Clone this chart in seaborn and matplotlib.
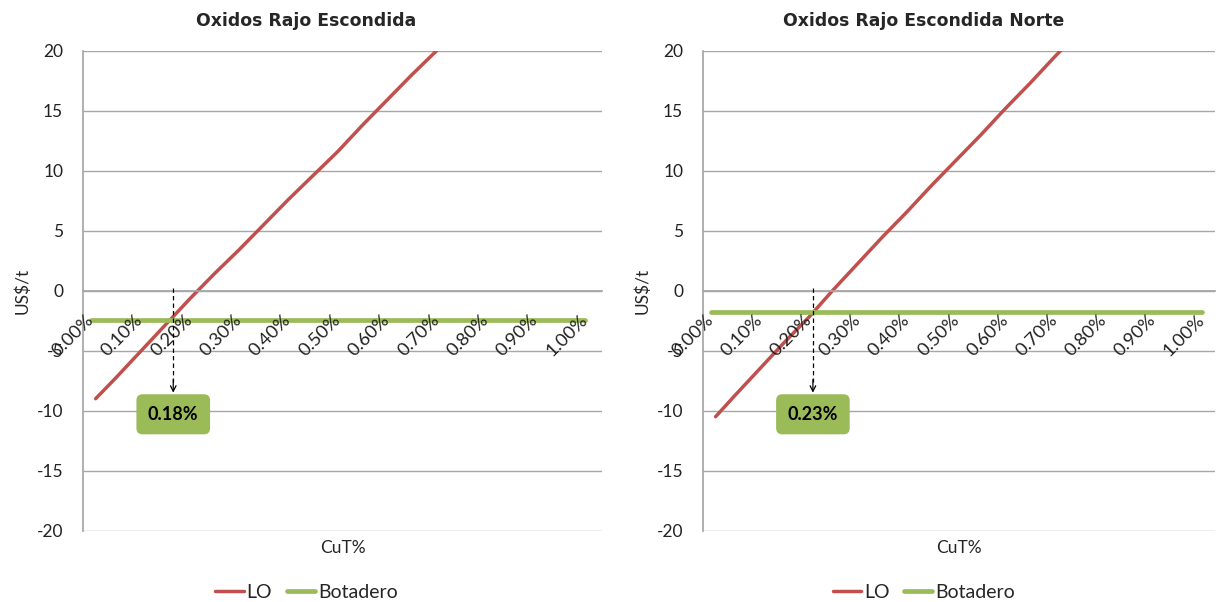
import numpy as np
import seaborn as sns
import matplotlib.pyplot as plt

# Data (cut-off grade CuT% vs US$/t)
cut = [0.01, 0.05, 0.10, 0.15, 0.20, 0.25, 0.30, 0.35, 0.40, 0.45, 0.50, 0.55, 0.60, 0.65, 0.70, 0.75]
lo_escondida = [-9.0, -7.3, -5.1, -2.9, -0.7, 1.4, 3.4, 5.5, 7.6, 9.6, 11.6, 13.8, 15.9, 18.0, 20.0, 22.1]
lo_norte = [-10.5, -8.7, -6.5, -4.3, -2.2, 0.1, 2.3, 4.5, 6.6, 8.8, 10.9, 13.0, 15.2, 17.3, 19.5, 21.6]

bot_cut = [0.00, 1.00]
bot_escondida = [-2.4, -2.4]
bot_norte = [-1.8, -1.8]

titles = ['Oxidos Rajo Escondida', 'Oxidos Rajo Escondida Norte']
breakeven_x = [0.167, 0.208]
breakeven_labels = ['0.18%', '0.23%']

xtick_vals = [0.0, 0.1, 0.2, 0.3, 0.4, 0.5, 0.6, 0.7, 0.8, 0.9, 1.0]
xtick_labels = ['0.00%', '0.10%', '0.20%', '0.30%', '0.40%', '0.50%',
                '0.60%', '0.70%', '0.80%', '0.90%', '1.00%']
yticks = [-20, -15, -10, -5, 0, 5, 10, 15, 20]

RED = '#C0504D'
GREEN = '#9BBB59'
GRID = '#A6A6A6'

sns.set_theme(style='white')
plt.rcParams['font.family'] = ['Lato', 'DejaVu Sans']

W, H = 1218, 602
fig = plt.figure(figsize=(W / 100, H / 100), dpi=100)

panels = [
    dict(rect=[83.3, 518.4], lo=lo_escondida, bot=bot_escondida, xmax=1.034, center=306.5),
    dict(rect=[703.3, 511.7], lo=lo_norte, bot=bot_norte, xmax=1.026, center=924.0),
]

for i, p in enumerate(panels):
    ax = fig.add_axes([p['rect'][0] / W, 1 - 530.7 / H, p['rect'][1] / W, 480 / H])

    sns.lineplot(x=cut, y=p['lo'], ax=ax, color=RED, lw=2.5, label='LO')
    sns.lineplot(x=bot_cut, y=p['bot'], ax=ax, color=GREEN, lw=3.4, label='Botadero')

    ax.set_xlim(-0.015, p['xmax'])
    ax.set_ylim(-20, 20)

    # horizontal gridlines, below the data
    for yv in yticks:
        ax.axhline(yv, color=GRID, lw=1.0, zorder=0.5)

    # spines: left axis, x axis crossing at 0
    for s in ['top', 'right']:
        ax.spines[s].set_visible(False)
    ax.spines['left'].set_color(GRID)
    ax.spines['bottom'].set_color(GRID)
    ax.spines['bottom'].set_position(('data', 0))

    ax.set_yticks(yticks)
    ax.set_yticklabels([str(v) for v in yticks])
    ax.tick_params(axis='y', direction='out', length=5, width=1, color=GRID,
                   pad=9.5, labelsize=12.5, labelcolor='#222222')

    ax.set_xticks(xtick_vals)
    ax.set_xticklabels(xtick_labels)
    ax.set_xticks(np.arange(-0.015, p['xmax'], 0.1), minor=True)
    ax.tick_params(axis='x', which='major', length=0, pad=19.4, labelsize=13.2, labelcolor='#222222')
    ax.tick_params(axis='x', which='minor', direction='out', length=4.5, width=1, color=GRID)
    plt.setp(ax.get_xticklabels(), rotation=45, ha='right', va='center', rotation_mode='anchor')
    ax.xaxis.set_zorder(3)
    ax.grid(False)

    ax.set_xlabel('')
    ax.set_ylabel('')

    # break-even marker
    xc = breakeven_x[i]
    ax.plot([xc, xc], [0.2, -7.6], color='black', lw=0.9, ls=(0, (3.5, 2.5)), zorder=4)
    ax.annotate('', xy=(xc, -8.5), xytext=(xc, -7.4),
                arrowprops=dict(arrowstyle='->', color='black', lw=0.9,
                                shrinkA=0, shrinkB=0, mutation_scale=10), zorder=4)
    ax.text(xc, -10.3, breakeven_labels[i], ha='center', va='center', fontsize=13,
            fontweight='bold', color='black', zorder=5,
            bbox=dict(boxstyle='round,pad=0.6,rounding_size=0.3', fc=GREEN, ec=GREEN))

    # titles, axis labels (positioned like the Excel chart areas)
    fig.text(p['center'] / W, 1 - 20.5 / H, titles[i], ha='center', va='center',
             fontsize=12.4, fontweight='bold', family=['DejaVu Sans'])
    ax.text(0.5, -17.5 / 480, 'CuT%', transform=ax.transAxes, ha='center', va='center', fontsize=12.5)
    fig.text((p['rect'][0] - 61) / W, 1 - 291 / H, 'US$/t', rotation=90,
             ha='center', va='center', fontsize=12.5)

    ax.legend(loc='center', bbox_to_anchor=(p['center'] / W, 1 - 592 / H),
              bbox_transform=fig.transFigure, ncol=2, frameon=False, fontsize=14,
              handlelength=1.45, handletextpad=0.15, columnspacing=0.75)

fig.savefig('out.png', dpi=100)
plt.close(fig)
